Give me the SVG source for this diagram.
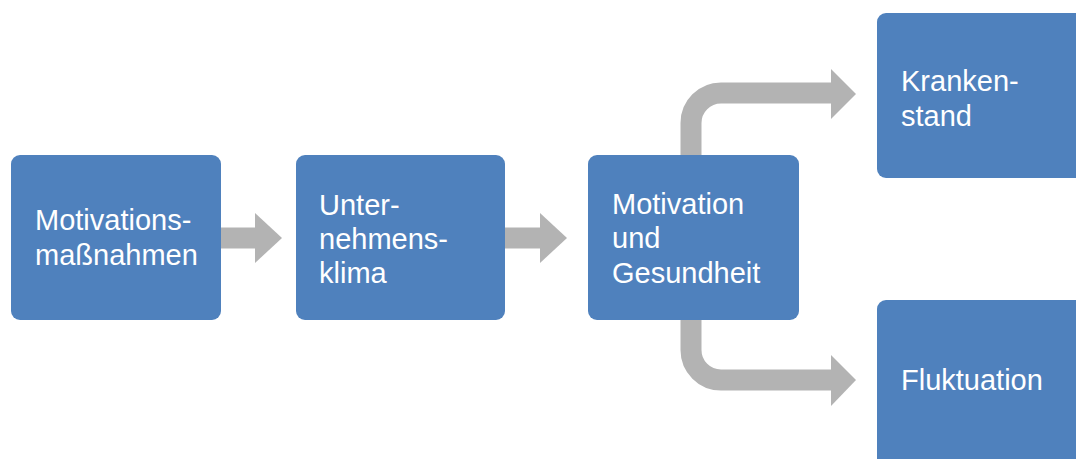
<svg xmlns="http://www.w3.org/2000/svg" width="1076" height="459" viewBox="0 0 1076 459">
  <style>
    .box { fill: #4F81BD; }
    .lbl { fill: #FFFFFF; font-family: "Liberation Sans", Arial, sans-serif; font-size: 29px; }
    .shaft { fill: none; stroke: #B3B3B3; stroke-width: 21; }
    .head { fill: #B3B3B3; }
  </style>
  <rect width="1076" height="459" fill="#FFFFFF"/>
  <g id="connectors">
    <line class="shaft" x1="221" y1="238" x2="256" y2="238"/>
    <polygon class="head" points="255,213 282,238 255,263"/>
    <line class="shaft" x1="505" y1="238" x2="541" y2="238"/>
    <polygon class="head" points="540,213 567,238 540,263"/>
    <path class="shaft" d="M691,156 V123 A30,30 0 0 1 721,93 H832"/>
    <polygon class="head" points="831,69 856,94 831,119"/>
    <path class="shaft" d="M691,319 V350 A30,30 0 0 0 721,380 H832"/>
    <polygon class="head" points="831,355 856,380 831,406"/>
  </g>
  <g id="node-motivationsmassnahmen">
    <rect class="box" x="11" y="155" width="210" height="165" rx="9"/>
    <text class="lbl" x="35" y="230">Motivations-</text>
    <text class="lbl" x="35" y="265">maßnahmen</text>
  </g>
  <g id="node-unternehmensklima">
    <rect class="box" x="296" y="155" width="209" height="165" rx="9"/>
    <text class="lbl" x="319" y="215">Unter-</text>
    <text class="lbl" x="319" y="249">nehmens-</text>
    <text class="lbl" x="319" y="283">klima</text>
  </g>
  <g id="node-motivation-gesundheit">
    <rect class="box" x="588" y="155" width="211" height="165" rx="9"/>
    <text class="lbl" x="612" y="214">Motivation</text>
    <text class="lbl" x="612" y="248">und</text>
    <text class="lbl" x="612" y="283">Gesundheit</text>
  </g>
  <g id="node-krankenstand">
    <rect class="box" x="877" y="13" width="215" height="165" rx="9"/>
    <text class="lbl" x="901" y="91">Kranken-</text>
    <text class="lbl" x="901" y="126">stand</text>
  </g>
  <g id="node-fluktuation">
    <rect class="box" x="877" y="300" width="215" height="175" rx="9"/>
    <text class="lbl" x="901" y="390">Fluktuation</text>
  </g>
</svg>
